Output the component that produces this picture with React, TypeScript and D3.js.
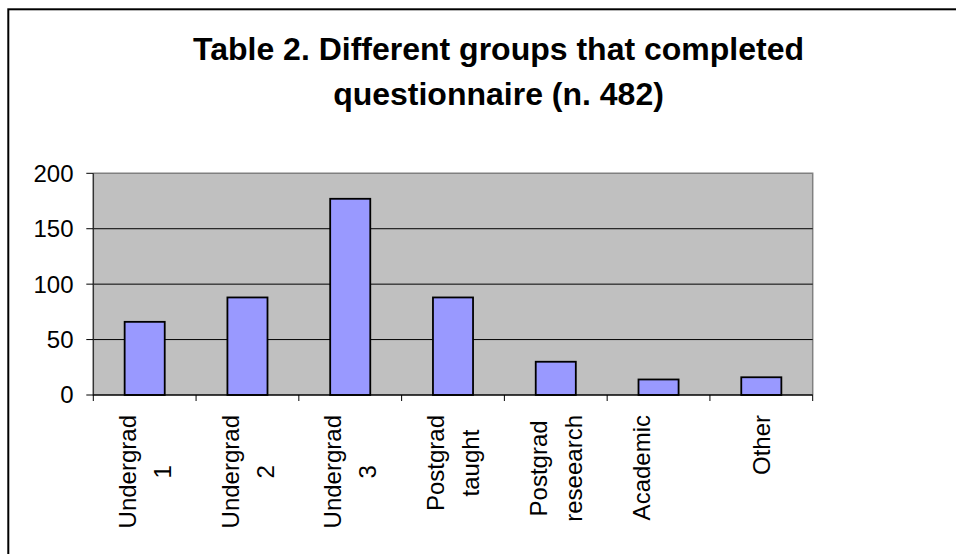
import React, { useEffect, useRef } from "react";
import * as d3 from "d3";

const titleLines = ["Table 2. Different groups that completed", "questionnaire (n. 482)"];
const categories = ["Undergrad\n1", "Undergrad\n2", "Undergrad\n3", "Postgrad\ntaught", "Postgrad\nreseearch", "Academic\n", "Other"];
const values = [66, 88, 177, 88, 30, 14, 16];
const yTicks = [0, 50, 100, 150, 200];

const W = 956;
const H = 554;
const FONT = "'Liberation Sans', Arial, Helvetica, sans-serif";

export default function App() {
  const ref = useRef<SVGSVGElement | null>(null);

  useEffect(() => {
    const svg = d3.select(ref.current);
    svg.selectAll("*").remove();

    const left = 93.3, right = 812.7, top = 173.3, bottom = 395;

    // outer border
    svg.append("rect").attr("x", 8.3).attr("y", 9.3).attr("width", 1200).attr("height", 1200)
      .attr("fill", "#fff").attr("stroke", "#000").attr("stroke-width", 2);

    // title
    const title = svg.append("text").attr("font-family", FONT).attr("font-weight", "bold")
      .attr("font-size", 32).attr("text-anchor", "middle").attr("fill", "#000");
    titleLines.forEach((t, i) => {
      title.append("tspan").attr("x", 498.5).attr("y", 60 + i * 45).text(t);
    });

    const x = d3.scaleBand<string>().domain(categories).range([left, right]).padding(0);
    const y = d3.scaleLinear().domain([0, 200]).range([bottom, top]);

    // plot area
    svg.append("rect").attr("x", left).attr("y", top).attr("width", right - left).attr("height", bottom - top)
      .attr("fill", "#C0C0C0");
    svg.append("path").attr("d", `M${left},${top}H${right}V${bottom}`).attr("fill", "none")
      .attr("stroke", "#808080").attr("stroke-width", 1.5);

    // gridlines
    svg.append("g").selectAll("line").data(yTicks.filter(v => v > 0 && v < 200)).join("line")
      .attr("x1", left).attr("x2", right).attr("y1", d => y(d)).attr("y2", d => y(d))
      .attr("stroke", "#000").attr("stroke-width", 1);

    // bars
    const bw = x.bandwidth() * 0.39;
    svg.append("g").selectAll("rect").data(values).join("rect")
      .attr("x", (d, i) => x(categories[i])! + x.bandwidth() / 2 - bw / 2)
      .attr("y", d => y(d))
      .attr("width", bw)
      .attr("height", d => y(0) - y(d))
      .attr("fill", "#9999FF").attr("stroke", "#000").attr("stroke-width", 1.8);

    // y axis
    svg.append("line").attr("x1", left).attr("x2", left).attr("y1", top).attr("y2", bottom + 0.5)
      .attr("stroke", "#333").attr("stroke-width", 1.5);
    const yt = svg.append("g");
    yTicks.forEach(v => {
      yt.append("line").attr("x1", left - 7).attr("x2", left).attr("y1", y(v)).attr("y2", y(v))
        .attr("stroke", "#000").attr("stroke-width", 1);
      yt.append("text").attr("x", 73.5).attr("y", y(v)).attr("dy", "0.35em")
        .attr("text-anchor", "end").attr("font-family", FONT).attr("font-size", 24).attr("fill", "#000")
        .text(v);
    });

    // x axis
    svg.append("line").attr("x1", left).attr("x2", right).attr("y1", bottom).attr("y2", bottom)
      .attr("stroke", "#000").attr("stroke-width", 1.5);
    const bounds = categories.map(c => x(c)!).concat([right]);
    svg.append("g").selectAll("line").data(bounds).join("line")
      .attr("x1", d => d).attr("x2", d => d).attr("y1", bottom).attr("y2", bottom + 6)
      .attr("stroke", "#000").attr("stroke-width", 1);

    // x labels (rotated, top aligned, lines centered)
    const lineH = 35;
    const labelTop = 415;
    const capHalf = 24 * 0.716 / 2;
    categories.forEach(c => {
      const lines = c.split("\n");
      const cx = x(c)! + x.bandwidth() / 2;
      const g = svg.append("g");
      const texts = lines.map((ln, i) => {
        const bx = cx + (i - (lines.length - 1) / 2) * lineH + capHalf;
        return { bx, t: ln.length ? g.append("text").attr("font-family", FONT).attr("font-size", 24).attr("fill", "#000")
          .attr("text-anchor", "middle").text(ln) : null };
      }).filter(o => o.t);
      const maxLen = d3.max(texts, o => (o.t!.node() as SVGTextElement).getComputedTextLength()) || 0;
      const cy = labelTop + maxLen / 2;
      texts.forEach(o => {
        o.t!.attr("transform", `translate(${o.bx},${cy}) rotate(-90)`).attr("x", 0).attr("y", 0);
      });
    });
  }, []);

  return (
    <svg ref={ref} width={W} height={H}
      style={{ position: "absolute", left: 0, top: 0, display: "block", background: "#fff" }} />
  );
}
